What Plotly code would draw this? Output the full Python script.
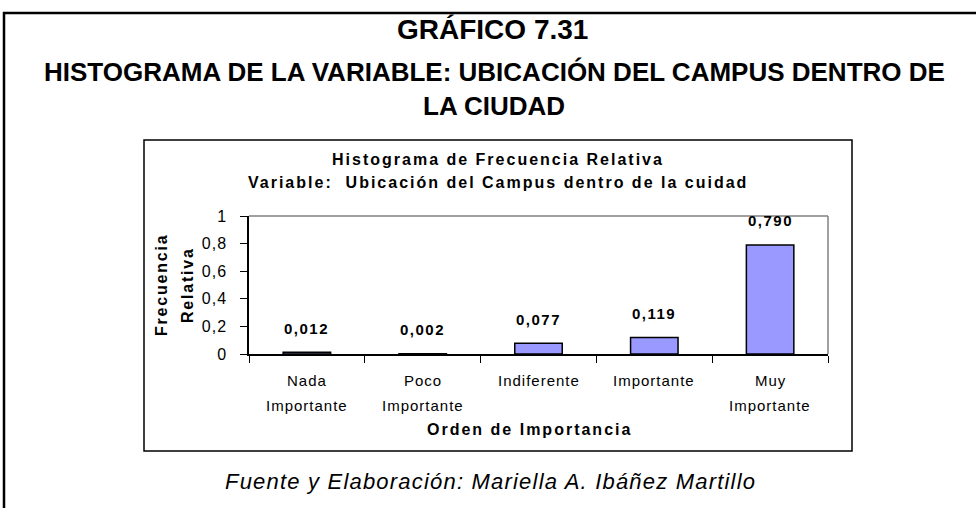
import plotly.graph_objects as go

# Data
categorias = ["Nada Importante", "Poco Importante", "Indiferente", "Importante", "Muy Importante"]
etiquetas = [["Nada", "Importante"], ["Poco", "Importante"], ["Indiferente"], ["Importante"], ["Muy", "Importante"]]
frecuencia_relativa = [0.012, 0.002, 0.077, 0.119, 0.790]
y_ticks = [0, 0.2, 0.4, 0.6, 0.8, 1]

W, H = 976, 508
# plot area in pixels
PL, PR, PT, PB = 249, 828, 216, 354


def px_x(px):
    return (px - PL) / (PR - PL)


def px_y(py):
    return (PB - py) / (PB - PT)


def spaced(text, px):
    return f'<span style="letter-spacing:{px}px">{text}</span>'


def coma(v, fmt):
    return format(v, fmt).replace(".", ",")


FONT = "Liberation Sans, Arial, sans-serif"

fig = go.Figure()
fig.add_trace(go.Bar(
    x=categorias,
    y=frecuencia_relativa,
    width=0.41,
    marker=dict(color="#9999FF", line=dict(color="black", width=1.5)),
    hoverinfo="skip",
))

annotations = []
# value labels above each bar
for c, v in zip(categorias, frecuencia_relativa):
    annotations.append(dict(
        x=c, y=v, xref="x", yref="y", text="<b>" + spaced(coma(v, ".3f"), 1.5) + "</b>",
        showarrow=False, yshift=24, yanchor="middle",
        font=dict(family=FONT, size=15, color="black"),
    ))

# category labels under the axis, one annotation per line
for c, lines in zip(categorias, etiquetas):
    for i, line in enumerate(lines):
        annotations.append(dict(
            x=c, y=0, xref="x", yref="y", text=spaced(line, 1),
            showarrow=False, yshift=-(26 + 25 * i), yanchor="middle",
            font=dict(family=FONT, size=15, color="black"),
        ))

texts = [
    ("<b>GRÁFICO 7.31</b>", 492, 29, 28, 0),
    ("<b>HISTOGRAMA DE LA VARIABLE: UBICACIÓN DEL CAMPUS DENTRO DE</b>", 494, 72, 26, 0),
    ("<b>LA CIUDAD</b>", 494, 106, 26, 0),
    ("<b>" + spaced("Histograma de Frecuencia Relativa", 2) + "</b>", 498, 159, 16, 0),
    ("<b>" + spaced("Variable:  Ubicación del Campus dentro de la cuidad", 2) + "</b>", 498, 182, 16, 0),
    ("<b>" + spaced("Orden de Importancia", 2) + "</b>", 529, 429, 16, 0),
    ("<i>" + spaced("Fuente y Elaboración: Mariella A. Ibáñez Martillo", 1.2) + "</i>", 490, 481, 22, 0),
    ("<b>" + spaced("Frecuencia", 1.8) + "</b>", 161, 285, 16, -90),
    ("<b>" + spaced("Relativa", 1.8) + "</b>", 187, 285, 16, -90),
]
for t, x, y, s, ang in texts:
    annotations.append(dict(
        x=px_x(x), y=px_y(y), xref="paper", yref="paper", text=t,
        showarrow=False, xanchor="center", yanchor="middle", textangle=ang,
        font=dict(family=FONT, size=s, color="black"),
    ))

shapes = [
    # outer frame
    dict(type="rect", xref="paper", yref="paper",
         x0=px_x(4), x1=px_x(990), y0=px_y(13), y1=px_y(520),
         line=dict(color="black", width=2.5), layer="below"),
    # chart box
    dict(type="rect", xref="paper", yref="paper",
         x0=px_x(144), x1=px_x(852), y0=px_y(140), y1=px_y(451),
         line=dict(color="black", width=1.5), layer="below"),
    # top and right edges of the plot area
    dict(type="line", xref="paper", yref="paper", x0=0, x1=1, y0=1, y1=1,
         line=dict(color="#808080", width=1.5), layer="below"),
    dict(type="line", xref="paper", yref="paper", x0=1, x1=1, y0=0, y1=1,
         line=dict(color="#808080", width=1.5), layer="below"),
]

fig.update_layout(
    width=W, height=H,
    margin=dict(l=PL, r=W - PR, t=PT, b=H - PB, pad=0),
    paper_bgcolor="white", plot_bgcolor="white",
    showlegend=False,
    annotations=annotations,
    shapes=shapes,
    xaxis=dict(
        showline=True, linecolor="black", linewidth=1.5,
        ticks="outside", tickson="boundaries", ticklen=7, tickcolor="black", tickwidth=1,
        showticklabels=False,
        showgrid=False, zeroline=False, fixedrange=True,
    ),
    yaxis=dict(
        range=[0, 1], tickvals=y_ticks,
        ticktext=[spaced(coma(v, "g"), 1) for v in y_ticks],
        ticklabelstandoff=10,
        showline=True, linecolor="black", linewidth=1.5,
        ticks="outside", ticklen=7, tickcolor="black", tickwidth=1,
        tickfont=dict(family=FONT, size=16, color="black"),
        showgrid=False, zeroline=False, fixedrange=True,
    ),
)

fig.write_html("out.html", config={"displayModeBar": False})
